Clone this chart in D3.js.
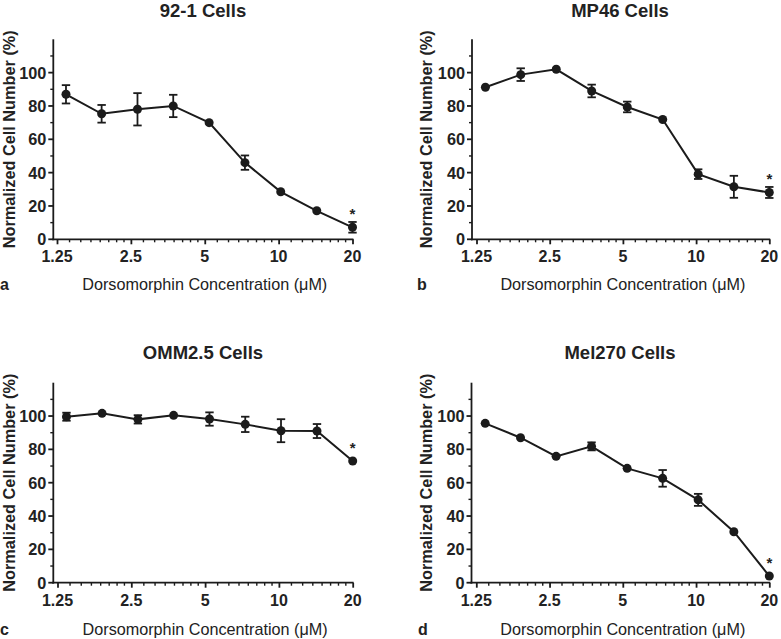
<!DOCTYPE html>
<html>
<head>
<meta charset="utf-8">
<script src="https://cdn.jsdelivr.net/npm/d3@7"></script>
<style>
  html, body { margin: 0; padding: 0; background: #fff; }
  svg { display: block; }
</style>
</head>
<body>
<svg id="chart" width="781" height="639"></svg>
<script>
// ---------- DATA ----------
const concentrations = [1.36, 1.9, 2.66, 3.72, 5.21, 7.29, 10.2, 14.3, 20];
const xTickValues = [1.25, 2.5, 5, 10, 20];
const xTickLabels = ["1.25", "2.5", "5", "10", "20"];
const yTickValues = [0, 20, 40, 60, 80, 100];

const panelTitles = ["92-1 Cells", "MP46 Cells", "OMM2.5 Cells", "Mel270 Cells"];
const panelLetters = ["a", "b", "c", "d"];

const mean921   = [87, 75.3, 78, 80, 70, 46, 28.5, 17.1, 7.2];
const sem921    = [5.5, 5.3, 9.7, 6.7, 1.0, 4.3, 1.0, 1.0, 3.2];
const meanMP46  = [91.2, 98.8, 102, 89, 79.4, 71.9, 39.1, 31.5, 28.1];
const semMP46   = [1.0, 3.8, 1.0, 3.8, 3.2, 1.0, 2.9, 6.6, 3.3];
const meanOMM25 = [99.6, 101.6, 98, 100.4, 98.2, 95, 91.2, 91, 73];
const semOMM25  = [2.4, 1.0, 2.5, 1.0, 4.0, 4.6, 6.9, 4.2, 1.0];
const meanMel270 = [95.6, 87, 75.8, 81.8, 68.6, 62.6, 49.7, 30.6, 4];
const semMel270  = [1.0, 1.0, 1.0, 2.4, 1.0, 5.0, 3.6, 1.0, 1.0];

const significant = [8]; // index of points marked with *

const panelMeans = [mean921, meanMP46, meanOMM25, meanMel270];
const panelSems = [sem921, semMP46, semOMM25, semMel270];

// ---------- LAYOUT ----------
const ink = "#1b1b1b";
const txt = "#222";
const fontFam = "'Liberation Sans', Arial, Helvetica, sans-serif";
const layouts = [
  { axisX: 53.3, x0: 57,    x1: 352.5, yBase: 239.3, titleX: 203, titleY: 16.8, tickY: 262, labY: 289.5, letterX: 0,   ylabX: 15 },
  { axisX: 472,  x0: 476.5, x1: 769.3, yBase: 239.3, titleX: 620, titleY: 16.8, tickY: 262, labY: 289.5, letterX: 417, ylabX: 432 },
  { axisX: 53.3, x0: 57.5,  x1: 352.7, yBase: 582.7, titleX: 203, titleY: 359,  tickY: 606, labY: 635,   letterX: 0,   ylabX: 15 },
  { axisX: 471.5,x0: 476.3, x1: 769.3, yBase: 582.7, titleX: 620, titleY: 359,  tickY: 606, labY: 635,   letterX: 418, ylabX: 432 }
];
const yHeight = 200; // pixels for 0..120

const svg = d3.select("#chart");

layouts.forEach((L, p) => {
  const g = svg.append("g");
  const x = d3.scaleLog().base(2).domain([1.25, 20]).range([L.x0, L.x1]);
  const y = d3.scaleLinear().domain([0, 120]).range([L.yBase, L.yBase - yHeight]);

  // minor x ticks
  const minorX = [];
  for (let j = 0; j < 4; j++) {
    const b = 1.25 * Math.pow(2, j);
    for (let k = 1; k <= 7; k++) minorX.push(b * (1 + k / 8));
  }
  const minorY = [10, 30, 50, 70, 90, 110];

  // x axis
  const xAxis = d3.axisBottom(x).tickValues(xTickValues)
    .tickFormat((d, i) => xTickLabels[i]).tickSize(5).tickPadding(4);
  const gx = g.append("g").attr("transform", `translate(0,${L.yBase})`).call(xAxis);
  gx.select(".domain").remove();
  gx.selectAll(".tick line").attr("stroke", ink).attr("stroke-width", 1.8);
  gx.selectAll(".tick text").remove();
  g.append("line").attr("x1", L.axisX - 1).attr("x2", x(20) + 0.9)
    .attr("y1", L.yBase).attr("y2", L.yBase).attr("stroke", ink).attr("stroke-width", 1.8);
  g.selectAll(".mx").data(minorX).join("line")
    .attr("x1", d => x(d)).attr("x2", d => x(d))
    .attr("y1", L.yBase).attr("y2", L.yBase + 3)
    .attr("stroke", ink).attr("stroke-width", 1.4);
  g.selectAll(".xtl").data(xTickValues).join("text")
    .attr("x", d => x(d)).attr("y", L.tickY)
    .attr("text-anchor", "middle")
    .attr("font-family", fontFam).attr("font-weight", "bold").attr("font-size", 16)
    .attr("fill", txt).text((d, i) => xTickLabels[i]);

  // y axis
  g.append("line").attr("x1", L.axisX).attr("x2", L.axisX)
    .attr("y1", y(0) + 0.9).attr("y2", y(120)).attr("stroke", ink).attr("stroke-width", 1.8);
  g.selectAll(".myt").data(yTickValues).join("line")
    .attr("x1", L.axisX - 5).attr("x2", L.axisX)
    .attr("y1", d => y(d)).attr("y2", d => y(d))
    .attr("stroke", ink).attr("stroke-width", 1.8);
  g.selectAll(".mny").data(minorY).join("line")
    .attr("x1", L.axisX - 3).attr("x2", L.axisX)
    .attr("y1", d => y(d)).attr("y2", d => y(d))
    .attr("stroke", ink).attr("stroke-width", 1.4);
  g.selectAll(".ytl").data(yTickValues).join("text")
    .attr("x", L.axisX - 7).attr("y", d => y(d))
    .attr("dy", "0.36em").attr("text-anchor", "end")
    .attr("font-family", fontFam).attr("font-weight", "bold").attr("font-size", 16.3)
    .attr("fill", txt).text(d => d);

  // axis titles
  g.append("text")
    .attr("transform", `translate(${L.ylabX},${y(60)}) rotate(-90)`)
    .attr("text-anchor", "middle")
    .attr("font-family", fontFam).attr("font-weight", "bold").attr("font-size", 16.3)
    .attr("fill", txt).text("Normalized Cell Number (%)");
  g.append("text")
    .attr("x", (x(1.25) + x(20)) / 2).attr("y", L.labY)
    .attr("text-anchor", "middle")
    .attr("font-family", fontFam).attr("font-size", 16.2)
    .attr("fill", txt).text("Dorsomorphin Concentration (\u03BCM)");
  g.append("text")
    .attr("x", L.letterX).attr("y", L.labY)
    .attr("font-family", fontFam).attr("font-weight", "bold").attr("font-size", 16)
    .attr("fill", txt).text(panelLetters[p]);

  // title
  g.append("text")
    .attr("x", L.titleX).attr("y", L.titleY)
    .attr("text-anchor", "middle")
    .attr("font-family", fontFam).attr("font-weight", "bold").attr("font-size", 18.5)
    .attr("fill", txt).text(panelTitles[p]);

  // data
  const pts = concentrations.map((c, i) => ({ c, m: panelMeans[p][i], s: panelSems[p][i], i }));
  const line = d3.line().x(d => x(d.c)).y(d => y(d.m));
  g.append("path").datum(pts).attr("d", line)
    .attr("fill", "none").attr("stroke", ink).attr("stroke-width", 2);

  const r = 4.5, cap = 4.2;
  const eb = pts.filter(d => (y(d.m) - y(d.m + d.s)) > 3);
  const ge = g.selectAll(".eb").data(eb).join("g");
  ge.append("line")
    .attr("x1", d => x(d.c)).attr("x2", d => x(d.c))
    .attr("y1", d => y(d.m + d.s)).attr("y2", d => y(d.m - d.s))
    .attr("stroke", ink).attr("stroke-width", 1.8);
  ge.append("line")
    .attr("x1", d => x(d.c) - cap).attr("x2", d => x(d.c) + cap)
    .attr("y1", d => y(d.m + d.s)).attr("y2", d => y(d.m + d.s))
    .attr("stroke", ink).attr("stroke-width", 1.8);
  ge.append("line")
    .attr("x1", d => x(d.c) - cap).attr("x2", d => x(d.c) + cap)
    .attr("y1", d => y(d.m - d.s)).attr("y2", d => y(d.m - d.s))
    .attr("stroke", ink).attr("stroke-width", 1.8);

  g.selectAll(".pt").data(pts).join("circle")
    .attr("cx", d => x(d.c)).attr("cy", d => y(d.m)).attr("r", r)
    .attr("fill", ink);

  g.selectAll(".star").data(pts.filter(d => significant.includes(d.i))).join("text")
    .attr("x", d => x(d.c)).attr("y", d => y(d.m) - 17 + 8.5)
    .attr("text-anchor", "middle")
    .attr("font-family", fontFam).attr("font-weight", "bold").attr("font-size", 15)
    .attr("fill", txt).text("*");
});
</script>
</body>
</html>
